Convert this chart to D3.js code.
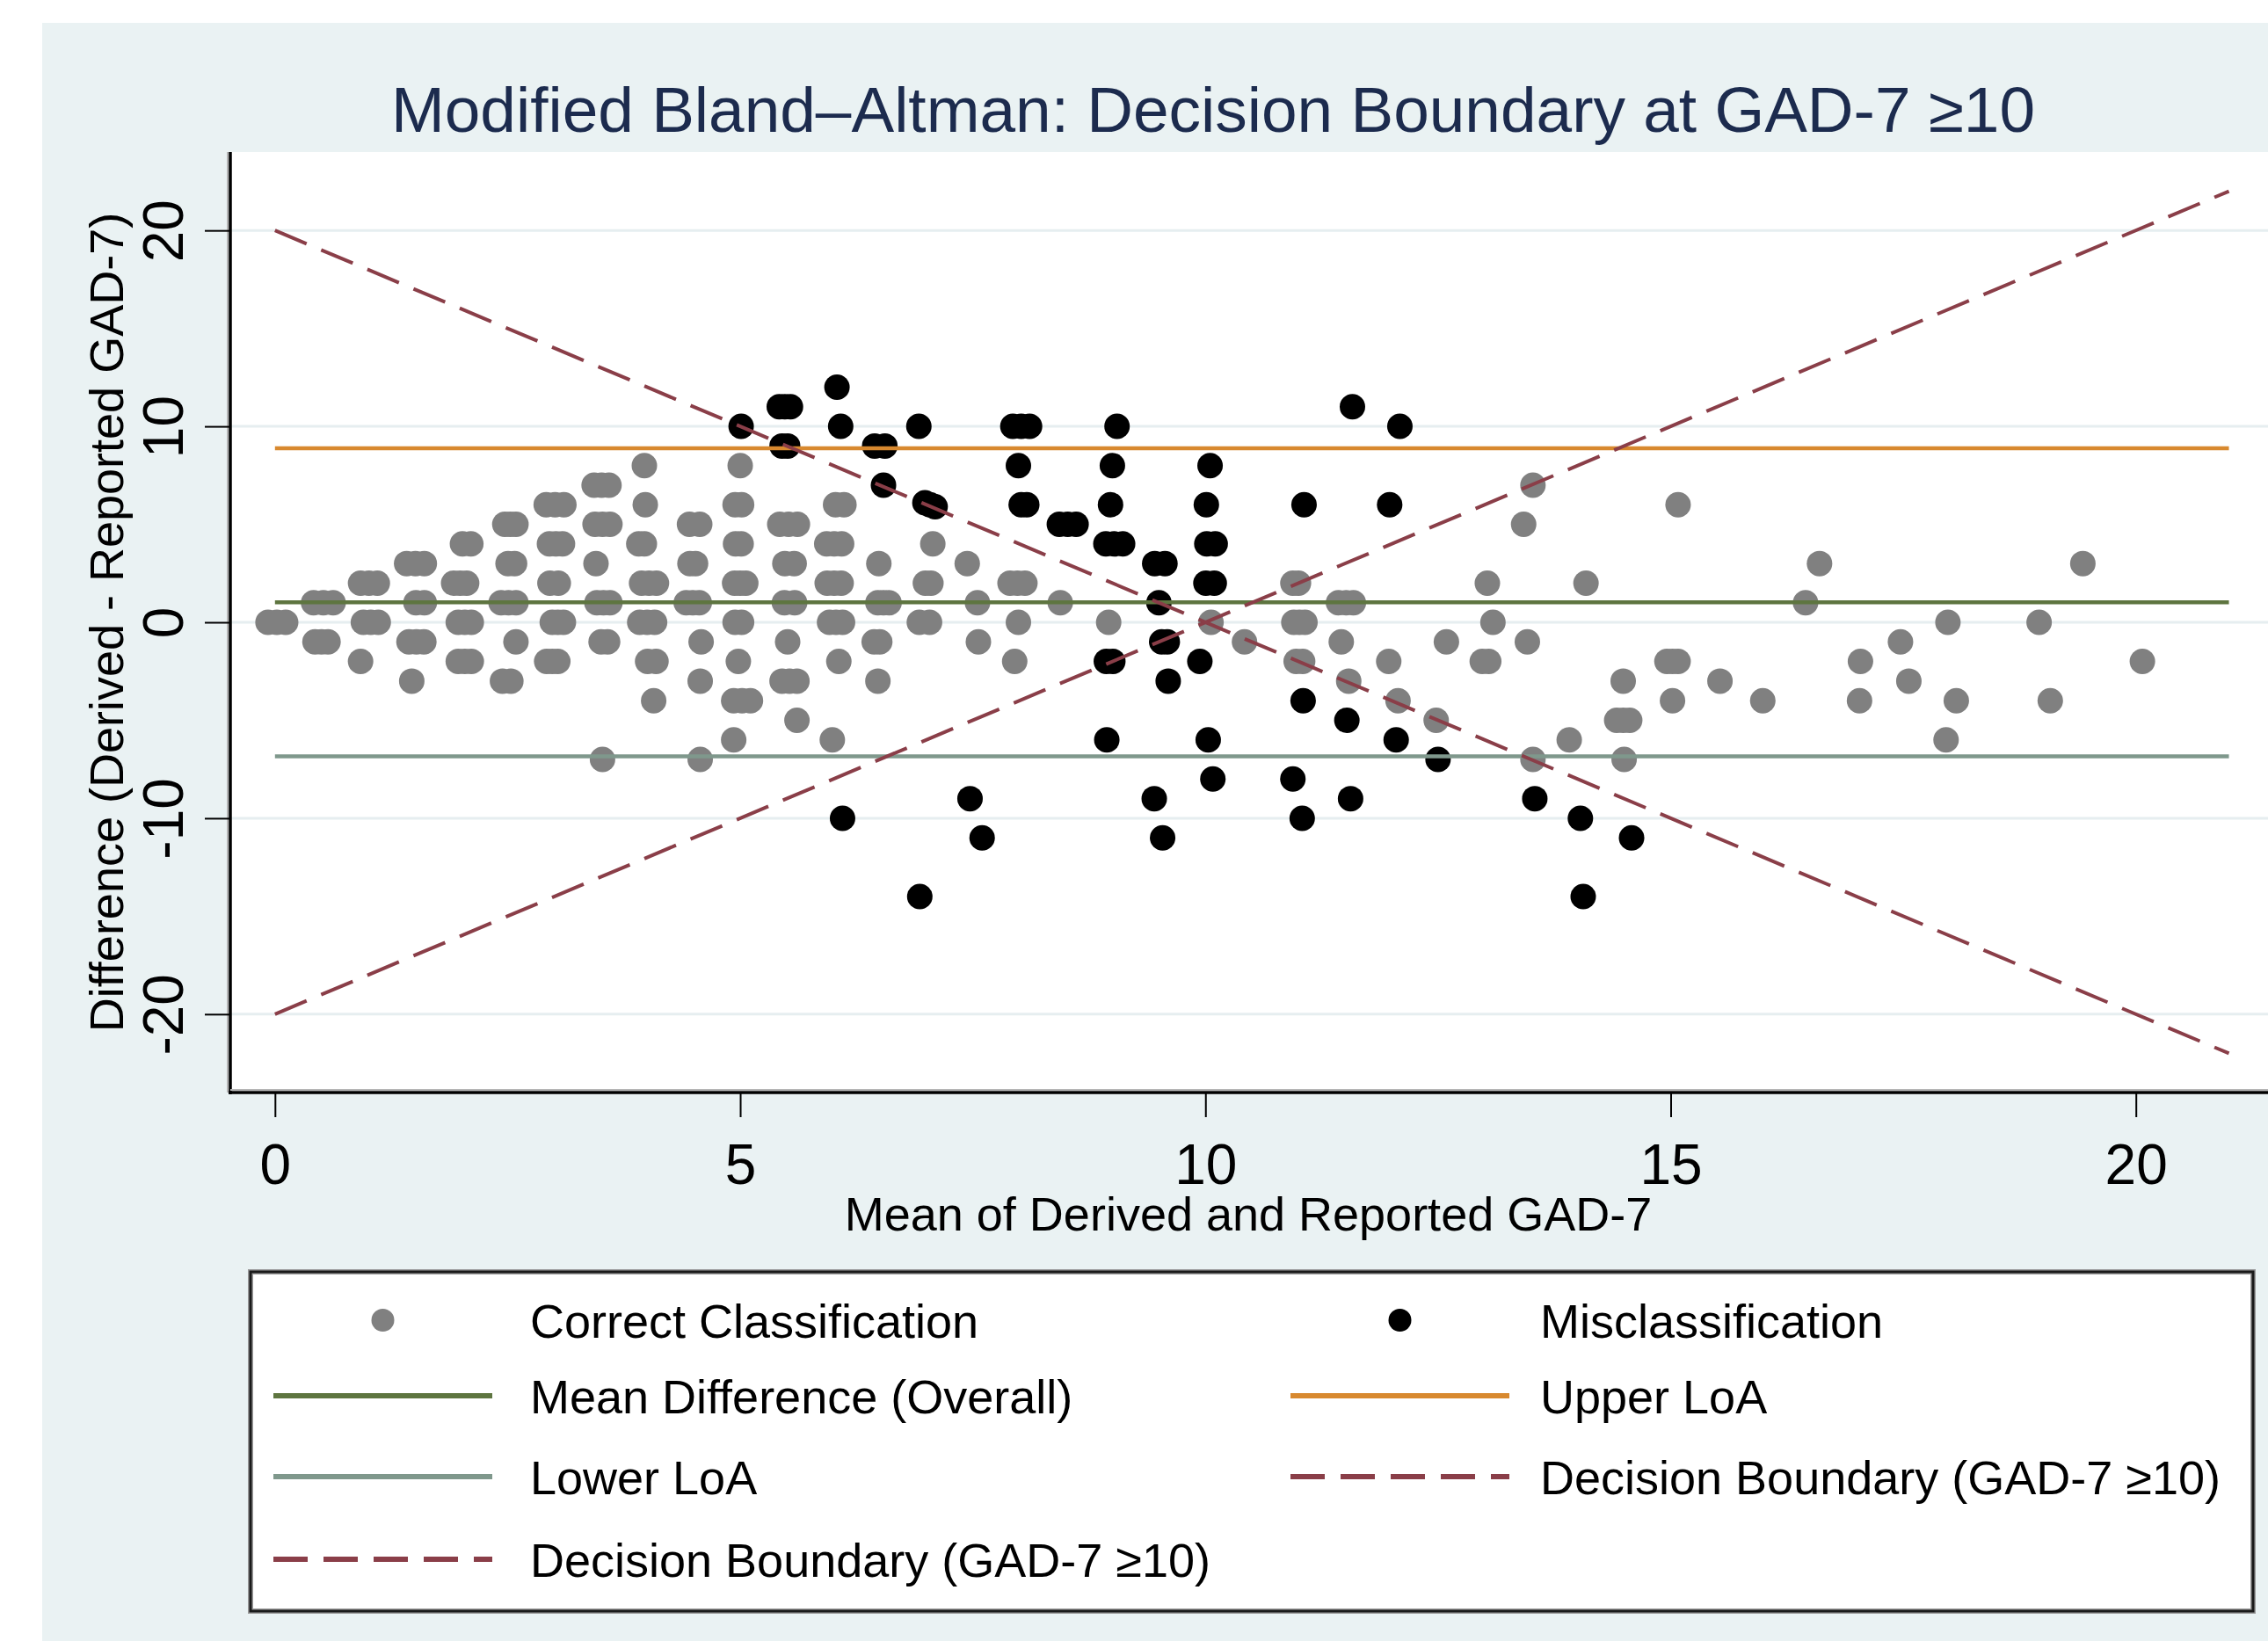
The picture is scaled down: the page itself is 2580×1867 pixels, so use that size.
<!DOCTYPE html>
<html><head><meta charset="utf-8">
<script src="https://cdn.jsdelivr.net/npm/d3@7"></script>
<style>html,body{margin:0;padding:0;background:#fff;} svg{display:block;}</style>
</head><body>
<script>
const chartTitle = "Modified Bland\u2013Altman: Decision Boundary at GAD-7 \u226510";
const xAxisTitle = "Mean of Derived and Reported GAD-7";
const yAxisTitle = "Difference (Derived - Reported GAD-7)";
const xTicks = [0, 5, 10, 15, 20];
const yTicks = [-20, -10, 0, 10, 20];
const meanDiff = 1.02;
const upperLoA = 8.88;
const lowerLoA = -6.84;
const refLineRange = [0, 21];
const boundaryUp = [[0, -20], [21, 22]];
const boundaryDown = [[0, 20], [21, -22]];

const correctPoints = [
[-0.075,0],[0.115,0],[0.415,1],[0.625,1],[0.43,-1],[0.57,-1],[0.92,2],[1.10,2],[0.95,0],[1.11,0],[0.92,-2],
[1.415,3],[1.605,3],[1.515,1],[1.605,1],[1.44,-1],[1.60,-1],[1.47,-3],
[2.015,4],[2.105,4],[1.92,2],[2.06,2],[1.97,0],[2.11,0],[1.97,-2],[2.11,-2],
[2.47,5],[2.59,5],[2.505,3],[2.575,3],[2.43,1],[2.59,1],[2.59,-1],[2.445,-3],[2.535,-3],
[2.915,6],[3.105,6],[2.95,4],[3.09,4],[2.955,2],[3.045,2],[2.98,0],[3.10,0],[2.92,-2],[3.04,-2],
[3.43,7],[3.59,7],[3.44,5],[3.60,5],[3.45,3],[3.46,1],[3.60,1],[3.505,-1],[3.575,-1],[3.52,-7],
[3.97,8],[3.98,6],[3.91,4],[3.97,4],[3.94,2],[4.10,2],[3.92,0],[4.08,0],[4.005,-2],[4.095,-2],[4.07,-4],
[4.455,5],[4.565,5],[4.46,3],[4.52,3],[4.42,1],[4.56,1],[4.58,-1],[4.57,-3],[4.57,-7],
[5.0,8],[4.945,6],[5.015,6],[4.95,4],[5.01,4],[4.94,2],[5.06,2],[4.945,0],[5.015,0],[4.98,-2],[4.93,-4],[5.11,-4],[4.93,-6],
[5.425,5],[5.615,5],[5.48,3],[5.58,3],[5.475,1],[5.585,1],[5.51,-1],[5.45,-3],[5.61,-3],[5.61,-5],
[6.025,6],[6.115,6],[5.93,4],[6.09,4],[5.935,2],[6.085,2],[5.96,0],[6.10,0],[6.06,-2],[5.99,-6],
[6.49,3],[6.48,1],[6.60,1],[6.44,-1],[6.50,-1],[6.48,-3],
[7.07,4],[6.99,2],[7.05,2],[6.925,0],[7.035,0],[7.44,3],[7.55,1],[7.56,-1],
[7.90,2],[8.06,2],[7.99,0],[7.95,-2],[8.44,1],[8.96,0],
[10.06,0],[10.42,-1],[10.94,2],[11.0,2],[10.95,0],[11.07,0],[10.975,-2],[11.045,-2],
[11.43,1],[11.59,1],[11.46,-1],[11.54,-3],[11.97,-2],[12.07,-4],[12.48,-5],[12.59,-1],
[13.03,2],[13.09,0],[12.975,-2],[13.045,-2],[13.42,5],[13.52,7],[13.46,-1],[13.52,-7],[13.91,-6],
[14.09,2],[14.49,-3],[14.42,-5],[14.56,-5],[14.5,-7],[14.96,-2],[15.08,-2],[15.02,-4],[15.08,6],
[15.53,-3],[15.99,-4],[16.45,1],[16.6,3],[17.04,-2],[17.03,-4],[17.47,-1],[17.56,-3],[17.98,0],
[17.96,-6],[18.07,-4],[18.96,0],[19.08,-4],[19.43,3],[20.07,-2],
[0.02,0],[0.52,1],[0.5,-1],[1.01,2],[1.03,0],[1.51,3],[1.52,-1],[1.99,2],[2.04,0],[2.04,-2],
[2.53,5],[2.51,1],[3.01,6],[3.02,4],[3.04,0],[2.98,-2],[3.51,7],[3.52,5],[3.53,1],[4.02,2],
[4.0,0],[4.49,1],[5.0,2],[5.02,-4],[5.52,5],[5.53,-3],[6.01,4],[6.01,2],[6.03,0],[6.54,1],
[7.98,2],[11.01,0],[11.51,1],[14.49,-5],[15.02,-2]
];

const misclassPoints = [
[5.01,10],[5.42,11],[5.54,11],[5.45,9],[5.51,9],[6.04,12],[6.08,10],[6.445,9],[6.555,9],
[6.54,7],[6.92,10],[6.985,6.1],[7.095,5.9],[7.93,10],[8.11,10],[7.99,8],[8.02,6],[8.08,6],
[8.43,5],[8.61,5],[9.05,10],[9.0,8],[8.98,6],[8.93,4],[9.11,4],[9.455,3],[9.565,3],[9.5,1],
[9.53,-1],[9.59,-1],[8.935,-2],[9.005,-2],[9.94,-2],[9.6,-3],[8.94,-6],
[7.47,-9],[6.1,-10],[7.6,-11],[9.45,-9],[9.54,-11],[6.93,-14],
[11.58,11],[12.09,10],[10.05,8],[10.01,6],[11.06,6],[11.98,6],[10.015,4],[10.105,4],[10.005,2],[10.095,2],
[11.05,-4],[11.52,-5],[10.03,-6],[12.05,-6],[12.5,-7],[10.08,-8],[10.94,-8],[11.56,-9],[11.04,-10],
[13.54,-9],[14.03,-10],[14.58,-11],[14.06,-14],
[5.48,11],[8.02,10],[8.52,5],[9.02,4],[7.04,6]
];

const legendLabels = [
  "Correct Classification", "Misclassification",
  "Mean Difference (Overall)", "Upper LoA",
  "Lower LoA", "Decision Boundary (GAD-7 \u226510)",
  "Decision Boundary (GAD-7 \u226510)"
];
const legendKinds = ["correct","misclass","mean","upper","lower","boundary","boundary"];

// ---- styles ----
const FONT = "'Liberation Sans', Arial, Helvetica, sans-serif";
const col = {
  bg: "#EAF2F3", grid: "#E6EEF0", correct: "#808080", misclass: "#000000",
  mean: "#5E7540", upper: "#D8892F", lower: "#7F988C", boundary: "#8A3E48", title: "#1C2B4E"
};

const W = 2580, H = 1867;
const svg = d3.select("body").append("svg").attr("width", W).attr("height", H)
  .style("font-family", FONT);

svg.append("rect").attr("x", 0).attr("y", 0).attr("width", W).attr("height", H).attr("fill", "#ffffff");
svg.append("rect").attr("x", 48).attr("y", 26).attr("width", W - 48).attr("height", H - 26).attr("fill", col.bg);

const plot = {left: 262, right: 2580, top: 173, bottom: 1243};
svg.append("rect").attr("x", plot.left).attr("y", plot.top)
  .attr("width", plot.right - plot.left).attr("height", plot.bottom - plot.top).attr("fill", "#ffffff");

const x = d3.scaleLinear().domain([-0.48, 21.42]).range([plot.left, plot.right]);
const y = d3.scaleLinear().domain([-24, 24]).range([plot.bottom, plot.top]);

svg.append("defs").append("clipPath").attr("id", "clip").append("rect")
  .attr("x", plot.left).attr("y", plot.top).attr("width", plot.right - plot.left).attr("height", plot.bottom - plot.top);

const g = svg.append("g").attr("clip-path", "url(#clip)");

// gridlines
g.selectAll("line.grid").data(yTicks).enter().append("line")
  .attr("x1", plot.left).attr("x2", plot.right)
  .attr("y1", d => y(d)).attr("y2", d => y(d))
  .attr("stroke", col.grid).attr("stroke-width", 3);

// points
g.selectAll("circle.correct").data(correctPoints).enter().append("circle")
  .attr("cx", d => x(d[0])).attr("cy", d => y(d[1])).attr("r", 14.5).attr("fill", col.correct);
g.selectAll("circle.mis").data(misclassPoints).enter().append("circle")
  .attr("cx", d => x(d[0])).attr("cy", d => y(d[1])).attr("r", 14.5).attr("fill", col.misclass);

// reference lines
const refs = [[meanDiff, col.mean], [upperLoA, col.upper], [lowerLoA, col.lower]];
g.selectAll("line.ref").data(refs).enter().append("line")
  .attr("x1", x(refLineRange[0])).attr("x2", x(refLineRange[1]))
  .attr("y1", d => y(d[0])).attr("y2", d => y(d[0]))
  .attr("stroke", d => d[1]).attr("stroke-width", 4.5);

const lineGen = d3.line().x(d => x(d[0])).y(d => y(d[1]));
[boundaryUp, boundaryDown].forEach(b => {
  g.append("path").attr("d", lineGen(b)).attr("fill", "none")
    .attr("stroke", col.boundary).attr("stroke-width", 4).attr("stroke-dasharray", "39,18");
});

// axes lines
svg.append("line").attr("x1", plot.left - 3).attr("x2", plot.left - 3).attr("y1", plot.top).attr("y2", plot.bottom)
  .attr("stroke", "#b5b5b5").attr("stroke-width", 2);
svg.append("line").attr("x1", plot.left).attr("x2", plot.left).attr("y1", plot.top).attr("y2", plot.bottom + 2)
  .attr("stroke", "#000").attr("stroke-width", 3.5);
svg.append("line").attr("x1", plot.left).attr("x2", plot.right).attr("y1", plot.bottom - 3).attr("y2", plot.bottom - 3)
  .attr("stroke", "#b5b5b5").attr("stroke-width", 2);
svg.append("line").attr("x1", plot.left - 2).attr("x2", plot.right).attr("y1", plot.bottom).attr("y2", plot.bottom)
  .attr("stroke", "#000").attr("stroke-width", 3.5);

// y axis
const yAxis = svg.append("g").attr("transform", `translate(${plot.left},0)`)
  .call(d3.axisLeft(y).tickValues(yTicks).tickSize(29).tickFormat(d => String(d)));
yAxis.select(".domain").remove();
yAxis.selectAll(".tick line").attr("stroke", "#000").attr("stroke-width", 2);
yAxis.selectAll(".tick text")
  .attr("x", null).attr("dy", null)
  .attr("transform", "translate(-54,0) rotate(-90)")
  .attr("text-anchor", "middle")
  .attr("font-size", 64).attr("font-family", FONT).attr("fill", "#000");

// x axis
const xAxis = svg.append("g").attr("transform", `translate(0,${plot.bottom})`)
  .call(d3.axisBottom(x).tickValues(xTicks).tickSize(28).tickFormat(d => String(d)));
xAxis.select(".domain").remove();
xAxis.selectAll(".tick line").attr("stroke", "#000").attr("stroke-width", 2);
xAxis.selectAll(".tick text").attr("y", 104).attr("dy", null)
  .attr("font-size", 64).attr("font-family", FONT).attr("fill", "#000");

// titles
svg.append("text").attr("x", 1380).attr("y", 150).attr("text-anchor", "middle")
  .attr("font-size", 73).attr("fill", col.title).text(chartTitle);
svg.append("text").attr("x", 1420).attr("y", 1400).attr("text-anchor", "middle")
  .attr("font-size", 54).attr("fill", "#000").text(xAxisTitle);
svg.append("text").attr("transform", "translate(140,708) rotate(-90)").attr("text-anchor", "middle")
  .attr("font-size", 54).attr("fill", "#000").text(yAxisTitle);

// legend
const lg = svg.append("g");
lg.append("rect").attr("x", 285).attr("y", 1447).attr("width", 2278).attr("height", 386)
  .attr("fill", "#fff").attr("stroke", "#9a9a9a").attr("stroke-width", 6);
lg.append("rect").attr("x", 285).attr("y", 1447).attr("width", 2278).attr("height", 386)
  .attr("fill", "none").attr("stroke", "#1a1a1a").attr("stroke-width", 3);

const colX = [311, 1468];
const textX = [603, 1752];
const rowY = [1502, 1588, 1680, 1774];
const keyW = 249;
legendLabels.forEach((label, i) => {
  const cx = colX[i % 2], cy = rowY[Math.floor(i / 2)];
  const kind = legendKinds[i];
  if (kind === "correct" || kind === "misclass") {
    lg.append("circle").attr("cx", cx + keyW / 2).attr("cy", cy).attr("r", 13)
      .attr("fill", kind === "correct" ? col.correct : col.misclass);
  } else {
    const ln = lg.append("line").attr("x1", cx).attr("x2", cx + keyW).attr("y1", cy).attr("y2", cy)
      .attr("stroke", col[kind]).attr("stroke-width", 6);
    if (kind === "boundary") ln.attr("stroke-dasharray", "39,18");
  }
  lg.append("text").attr("x", textX[i % 2]).attr("y", cy + 20).attr("font-size", 54).attr("fill", "#000").text(label);
});
</script>
</body></html>
